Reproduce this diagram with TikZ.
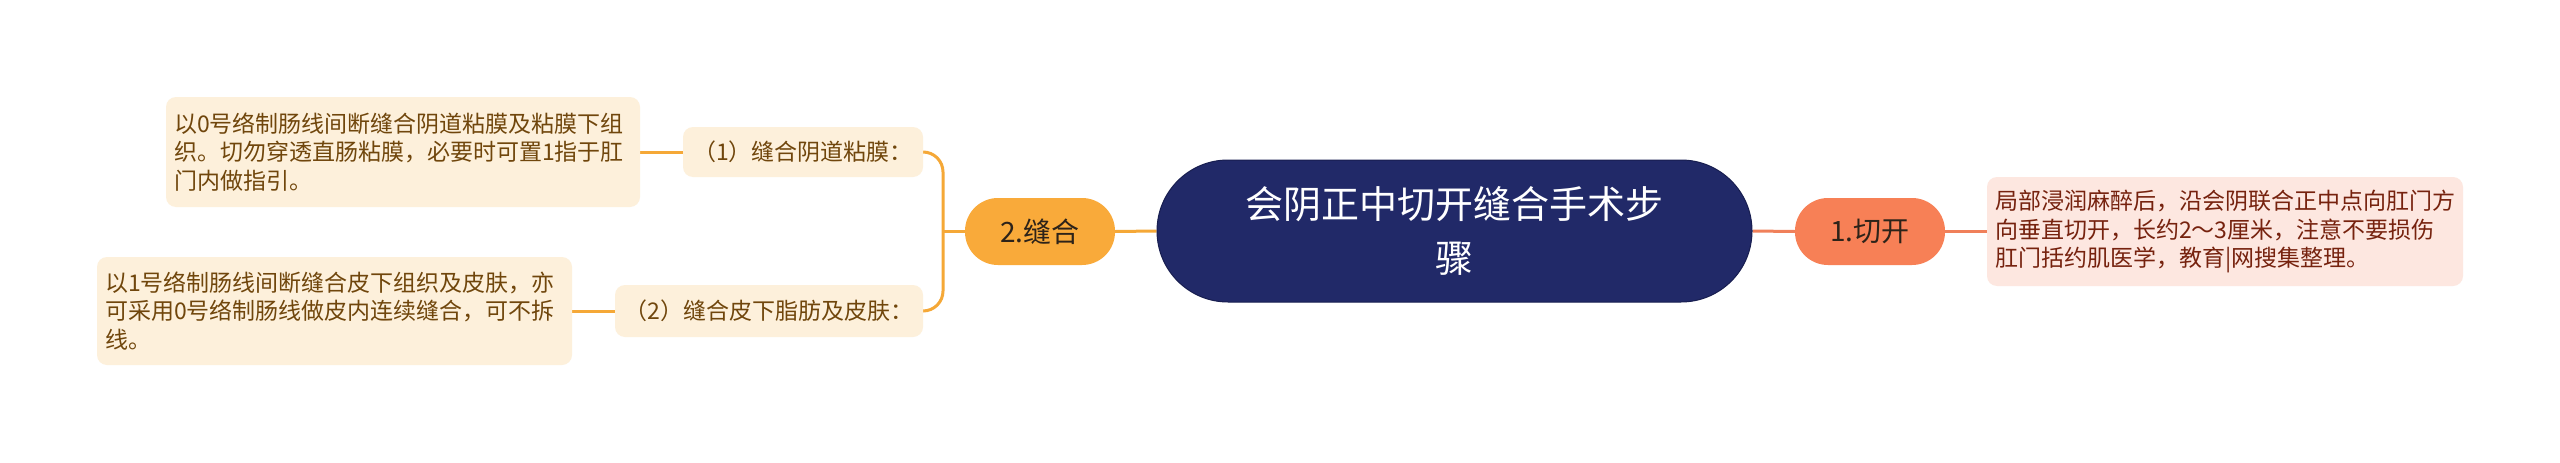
\documentclass[tikz,border=0pt]{standalone}
\usepackage{fontspec}
\setmainfont{Noto Sans CJK SC}
\usetikzlibrary{backgrounds}
\definecolor{navy}{RGB}{33,41,104}
\definecolor{navyline}{RGB}{24,30,80}
\definecolor{orangeA}{RGB}{249,170,58}
\definecolor{orangeL}{RGB}{245,168,55}
\definecolor{salmonA}{RGB}{247,128,86}
\definecolor{salmonL}{RGB}{240,128,90}
\definecolor{creamF}{RGB}{253,240,219}
\definecolor{creamT}{RGB}{112,70,12}
\definecolor{pinkF}{RGB}{253,231,224}
\definecolor{pinkT}{RGB}{118,34,14}
\definecolor{darkT}{RGB}{45,35,25}
\begin{document}
\begin{tikzpicture}[x=1pt,y=-1pt,
  rootbox/.style={fill=navy,draw=navyline,line width=1pt,rounded corners=71pt,
    minimum width=595pt,minimum height=142pt,inner sep=0pt,align=center,
    text=white,font=\fontsize{38}{54}\selectfont},
  mainbox/.style={rounded corners=33pt,minimum width=150pt,minimum height=67pt,
    inner sep=0pt,text=darkT,font=\fontsize{28}{34}\selectfont},
  subbox/.style={fill=creamF,rounded corners=10pt,inner sep=0pt,text=creamT,
    font=\fontsize{23}{28.3}\selectfont},
  leafbox/.style={rounded corners=10pt,inner xsep=8pt,inner ysep=0pt,align=left,
    font=\fontsize{23}{28.3}\selectfont},
  conn/.style={line width=3pt},
]
\useasboundingbox (0,0) rectangle (2560,463);

\node[rootbox] (root) at (1454.5,231) {会阴正中切开缝合手术步\\骤};

\node[mainbox,fill=orangeA] (n2) at (1040,231.5) {2.缝合};
\node[mainbox,fill=salmonA] (n1) at (1870,231.5) {1.切开};

\node[leafbox,fill=pinkF,text=pinkT,text width=460pt,minimum height=109pt] (r1) at (2225,231.5)
  {局部浸润麻醉后，沿会阴联合正中点向肛门方\\向垂直切开，长约2～3厘米，注意不要损伤\\肛门括约肌医学，教育|网搜集整理。};

\node[subbox,minimum width=240pt,minimum height=50pt] (s1) at (803,152) {（1）缝合阴道粘膜：};
\node[subbox,minimum width=308pt,minimum height=52pt] (s2) at (769,311) {（2）缝合皮下脂肪及皮肤：};

\node[leafbox,fill=creamF,text=creamT,text width=458pt,minimum height=110pt] (l1) at (403,152)
  {以0号络制肠线间断缝合阴道粘膜及粘膜下组\\织。切勿穿透直肠粘膜，必要时可置1指于肛\\门内做指引。};
\node[leafbox,fill=creamF,text=creamT,text width=459pt,minimum height=108pt] (l2) at (334.5,311)
  {以1号络制肠线间断缝合皮下组织及皮肤，亦\\可采用0号络制肠线做皮内连续缝合，可不拆\\线。};

\coordinate (bx) at (943,231.5);

\begin{scope}[on background layer]
\fill[white] (0,0) rectangle (2560,463);
\draw[conn,orangeL] (root.west) -- (n2.east);
\draw[conn,orangeL] (n2.west) -- (bx);
\draw[conn,orangeL,rounded corners=20pt] (s1.east) -| (bx) |- (s2.east);
\draw[conn,orangeL] (s1.west) -- (l1.east);
\draw[conn,orangeL] (s2.west) -- (l2.east);
\draw[conn,salmonL] (root.east) -- (n1.west);
\draw[conn,salmonL] (n1.east) -- (r1.west);
\end{scope}
\end{tikzpicture}
\end{document}
